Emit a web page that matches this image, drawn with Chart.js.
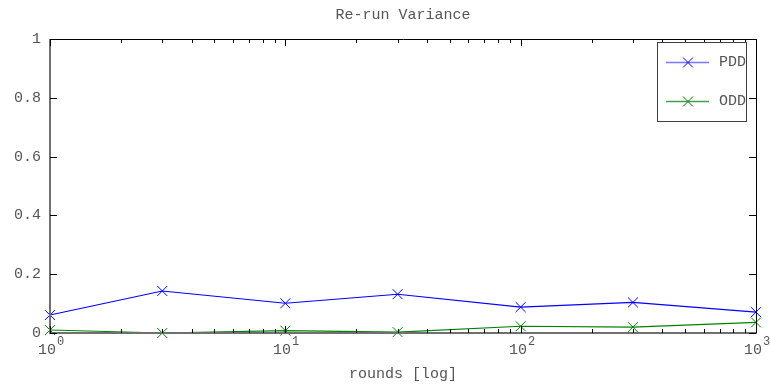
<!DOCTYPE html>
<html lang="en">
<head>
    <meta charset="UTF-8">
    <title>Re-run Variance</title>
    <script src="https://cdn.jsdelivr.net/npm/chart.js"></script>
    <style>
        html, body { margin: 0; padding: 0; background: #fff; }
        #wrap { width: 770px; height: 387px; }
    </style>
</head>
<body>
<div id="wrap"><canvas id="varianceChart" width="770" height="387"></canvas></div>
<script>
    // rounds on a log axis, variance per re-run
    var rounds = [1, 3, 10, 30, 100, 300, 1000];
    var pddValues = [0.061, 0.143, 0.101, 0.132, 0.088, 0.104, 0.071];
    var oddValues = [0.010, 0.000, 0.008, 0.003, 0.023, 0.020, 0.036];
    var yTicks = [0, 0.2, 0.4, 0.6, 0.8, 1];
    var yTickLabels = ['0', '0.2', '0.4', '0.6', '0.8', '1'];
    var xDecades = [0, 1, 2, 3];

    var FONT = '"Liberation Mono", "DejaVu Sans Mono", monospace';
    var TEXT = '#555';

    // axes, inward ticks, labels and legend box, all drawn off the chart scales
    var frame = {
        id: 'frame',
        afterDatasetsDraw: function (chart) {
            var ctx = chart.ctx;
            var xs = chart.scales.x, ys = chart.scales.y;
            var a = chart.chartArea;
            ctx.save();

            // box
            ctx.strokeStyle = '#000';
            ctx.lineWidth = 1;
            ctx.beginPath();
            ctx.moveTo(a.left, a.top + 0.5);
            ctx.lineTo(a.right + 0.5, a.top + 0.5);
            ctx.lineTo(a.right + 0.5, a.bottom);
            ctx.stroke();
            ctx.strokeStyle = '#707070';
            ctx.lineWidth = 2;
            ctx.beginPath();
            ctx.moveTo(a.left, a.top);
            ctx.lineTo(a.left, a.bottom);
            ctx.lineTo(a.right + 1, a.bottom);
            ctx.stroke();

            // y ticks both sides
            ctx.strokeStyle = '#000';
            ctx.lineWidth = 1;
            ctx.font = '15px ' + FONT;
            ctx.fillStyle = TEXT;
            ctx.textAlign = 'right';
            ctx.textBaseline = 'middle';
            yTicks.forEach(function (v, i) {
                var py = Math.round(ys.getPixelForValue(v)) + 0.5;
                ctx.beginPath();
                ctx.moveTo(a.left, py); ctx.lineTo(a.left + 7, py);
                ctx.moveTo(a.right, py); ctx.lineTo(a.right - 7, py);
                ctx.stroke();
                ctx.fillText(yTickLabels[i], a.left - 9, py);
            });

            // x ticks: major at decades, minor at 2..9
            xDecades.forEach(function (d, i) {
                var base = Math.pow(10, d);
                var px = Math.round(xs.getPixelForValue(base)) + 0.5;
                ctx.beginPath();
                ctx.moveTo(px, a.bottom); ctx.lineTo(px, a.bottom - 7);
                ctx.moveTo(px, a.top); ctx.lineTo(px, a.top + 7);
                ctx.stroke();
                if (i < xDecades.length - 1) {
                    for (var m = 2; m < 10; m++) {
                        var mx = Math.round(xs.getPixelForValue(base * m)) + 0.5;
                        ctx.beginPath();
                        ctx.moveTo(mx, a.bottom); ctx.lineTo(mx, a.bottom - 4);
                        ctx.moveTo(mx, a.top); ctx.lineTo(mx, a.top + 4);
                        ctx.stroke();
                    }
                }
                // 10 with raised exponent
                ctx.textBaseline = 'alphabetic';
                ctx.font = '15px ' + FONT;
                var w10 = ctx.measureText('10').width;
                ctx.font = '12px ' + FONT;
                var wE = ctx.measureText(String(d)).width;
                var left = px - (w10 + wE) / 2;
                ctx.textAlign = 'left';
                ctx.font = '15px ' + FONT;
                ctx.fillText('10', left, a.bottom + 21);
                ctx.font = '12px ' + FONT;
                ctx.fillText(String(d), left + w10 + 1, a.bottom + 12);
            });

            // titles
            ctx.font = '15px ' + FONT;
            ctx.textAlign = 'center';
            ctx.textBaseline = 'middle';
            ctx.fillText('Re-run Variance', (a.left + a.right) / 2, 15);
            ctx.fillText('rounds [log]', (a.left + a.right) / 2, a.bottom + 41);

            // legend
            var lx = 657.5, ly = 42.5, lw = 89, lh = 79;
            ctx.fillStyle = '#fff';
            ctx.fillRect(lx, ly, lw, lh);
            ctx.strokeStyle = '#404040';
            ctx.lineWidth = 1;
            ctx.strokeRect(lx, ly, lw, lh);
            var rows = [62, 101];
            chart.data.datasets.forEach(function (ds, i) {
                var y = rows[i] + 0.5;
                ctx.strokeStyle = ds.legendColor;
                ctx.lineWidth = 1.5;
                ctx.beginPath();
                ctx.moveTo(666, y); ctx.lineTo(709, y);
                ctx.stroke();
                ctx.strokeStyle = ds.borderColor;
                ctx.lineWidth = 1;
                ctx.beginPath();
                ctx.moveTo(683, y - 5); ctx.lineTo(693, y + 5);
                ctx.moveTo(693, y - 5); ctx.lineTo(683, y + 5);
                ctx.stroke();
                ctx.fillStyle = TEXT;
                ctx.font = '15px ' + FONT;
                ctx.textAlign = 'left';
                ctx.fillText(ds.label, 719, y);
            });
            ctx.restore();
        }
    };

    function series(label, values, color, light) {
        return {
            label: label,
            data: rounds.map(function (r, i) { return { x: r, y: values[i] }; }),
            borderColor: color,
            legendColor: light,
            backgroundColor: color,
            borderWidth: 1.1,
            pointStyle: 'crossRot',
            pointRadius: 7,
            pointBorderWidth: 1,
            pointBorderColor: color,
            tension: 0,
            clip: false
        };
    }

    new Chart(document.getElementById('varianceChart'), {
        type: 'line',
        data: {
            datasets: [
                series('PDD', pddValues, '#0000ff', '#7777ff'),
                series('ODD', oddValues, '#008000', '#44a044')
            ]
        },
        options: {
            responsive: false,
            animation: false,
            layout: { padding: { left: 50, right: 14, top: 39, bottom: 54 } },
            plugins: { legend: { display: false }, tooltip: { enabled: false } },
            scales: {
                x: { type: 'logarithmic', min: 1, max: 1000, display: false },
                y: { type: 'linear', min: 0, max: 1, display: false }
            }
        },
        plugins: [frame]
    });
</script>
</body>
</html>
